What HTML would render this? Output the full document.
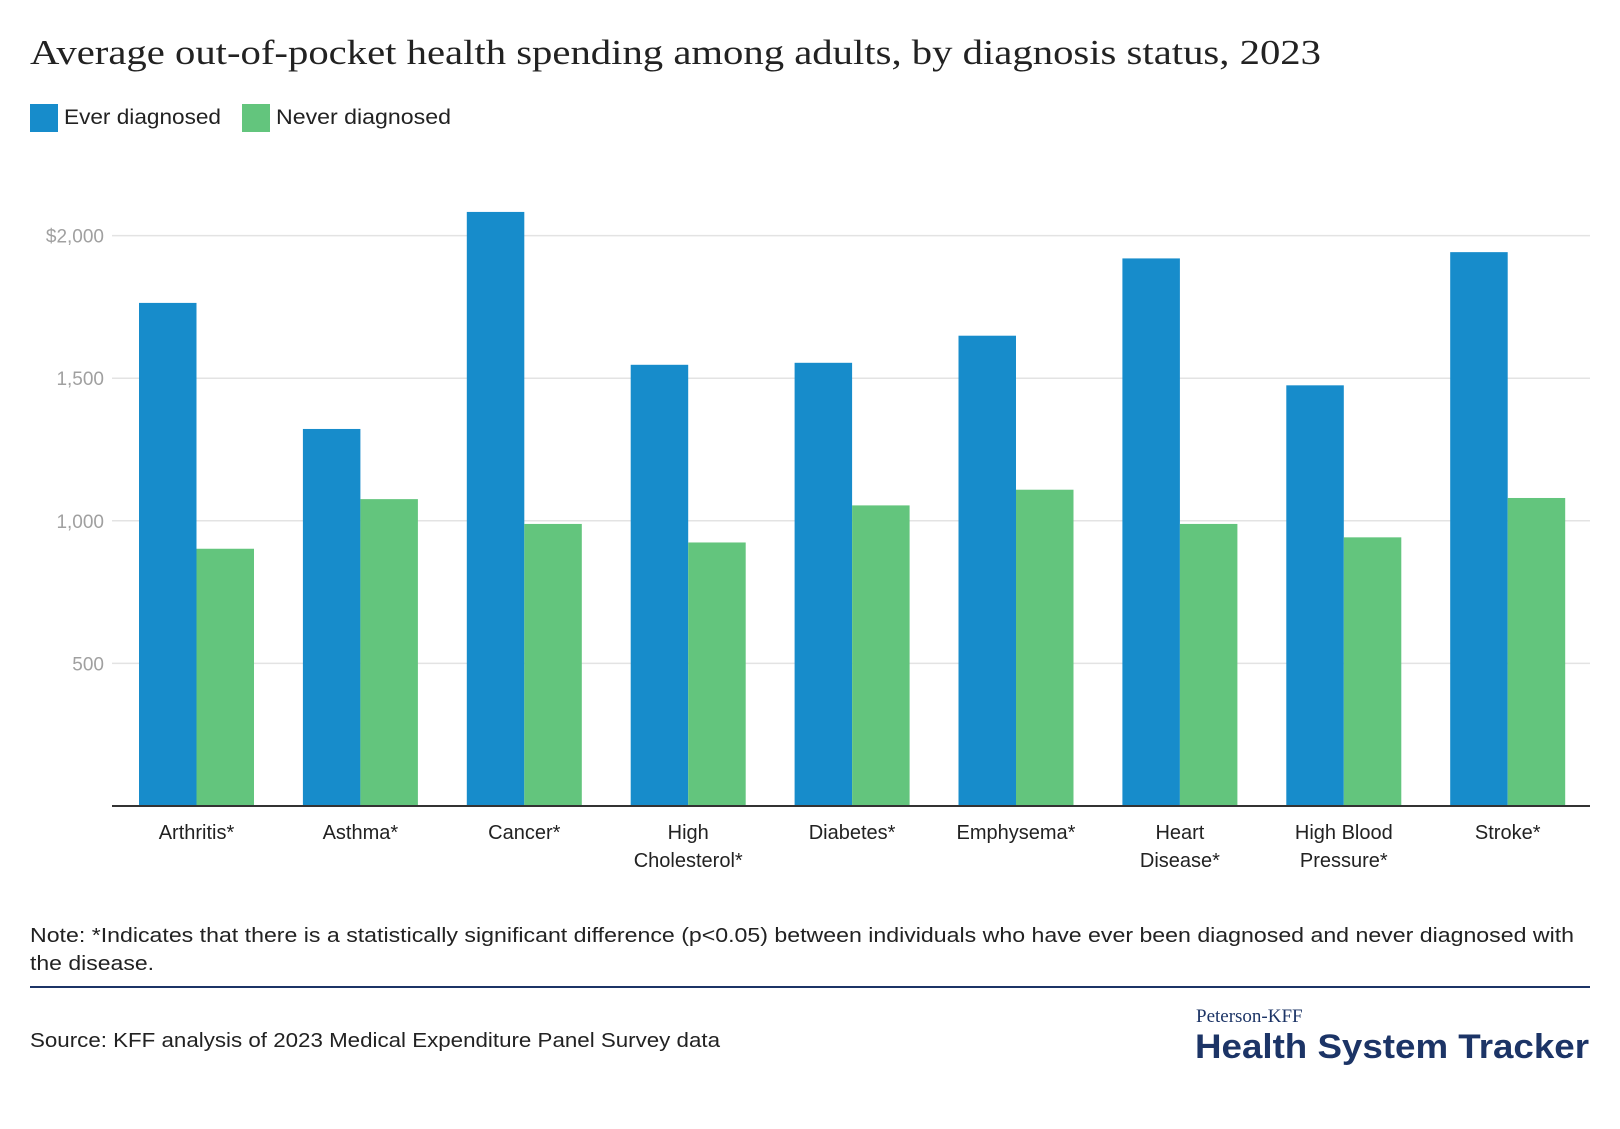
<!DOCTYPE html>
<html><head><meta charset="utf-8"><style>
body{margin:0;background:#fff;width:1620px;height:1124px;overflow:hidden;font-family:"Liberation Sans",sans-serif;}
</style></head><body>
<svg width="1620" height="1124" xmlns="http://www.w3.org/2000/svg">
<text x="30" y="64" font-family="Liberation Serif, serif" font-size="35" fill="#222" textLength="1291" lengthAdjust="spacingAndGlyphs">Average out-of-pocket health spending among adults, by diagnosis status, 2023</text>
<g>
<rect x="30" y="104" width="28" height="28" fill="#178ccb"/>
<text x="64" y="124" font-size="21" fill="#222" textLength="157" lengthAdjust="spacingAndGlyphs">Ever diagnosed</text>
<rect x="242" y="104" width="28" height="28" fill="#63c57d"/>
<text x="276" y="124" font-size="21" fill="#222" textLength="175" lengthAdjust="spacingAndGlyphs">Never diagnosed</text>
</g>
<g id="plot"></g>
<text x="30" y="942" font-size="20" fill="#222" textLength="1544" lengthAdjust="spacingAndGlyphs">Note: *Indicates that there is a statistically significant difference (p&lt;0.05) between individuals who have ever been diagnosed and never diagnosed with</text>
<text x="30" y="970" font-size="20" fill="#222" textLength="124" lengthAdjust="spacingAndGlyphs">the disease.</text>
<line x1="30" x2="1590" y1="987" y2="987" stroke="#1c3466" stroke-width="2"/>
<text x="30" y="1047" font-size="20" fill="#222" textLength="690" lengthAdjust="spacingAndGlyphs">Source: KFF analysis of 2023 Medical Expenditure Panel Survey data</text>
<text x="1196" y="1022" font-family="Liberation Serif, serif" font-size="19" fill="#1c3466">Peterson-KFF</text>
<text x="1195" y="1058" font-size="34" font-weight="bold" fill="#1c3466" textLength="394" lengthAdjust="spacingAndGlyphs">Health System Tracker</text>
</svg>
<script>
const categories=[["Arthritis*"],["Asthma*"],["Cancer*"],["High","Cholesterol*"],["Diabetes*"],["Emphysema*"],["Heart","Disease*"],["High Blood","Pressure*"],["Stroke*"]];
const everVals=[1764,1322,2083,1547,1554,1649,1920,1475,1942];
const neverVals=[902,1076,989,924,1054,1109,989,942,1080];
const ticks=[500,1000,1500,2000];
const tickLabels=["500","1,000","1,500","$2,000"];
const NS="http://www.w3.org/2000/svg";
const g=document.getElementById('plot');
const L=112,R=1590,B=806,T=235.6,maxV=2000;
const y=v=>B-(v/maxV)*(B-T);
const band=163.9;
const xc=i=>196.5+band*i;
const bw=57.5;
function mk(t,a){const e=document.createElementNS(NS,t);for(const k in a)e.setAttribute(k,a[k]);g.appendChild(e);return e;}
ticks.forEach((t,i)=>{
 const l=mk('line',{x1:L,x2:R,y1:y(t),y2:y(t),stroke:'#e3e3e3','stroke-width':1.5});
 
 
 const tx=mk('text',{x:L-8,y:y(t)+7,'text-anchor':'end','font-size':19,fill:'#a0a0a0'});
 tx.textContent=tickLabels[i];
 
 
});
categories.forEach((c,i)=>{
 const b1=mk('rect',{x:xc(i)-bw,y:y(everVals[i]),width:bw,height:B-y(everVals[i]),fill:'#178ccb'});
 
 
 const b2=mk('rect',{x:xc(i),y:y(neverVals[i]),width:bw,height:B-y(neverVals[i]),fill:'#63c57d'});
 
 
 c.forEach((line,j)=>{
  const t=mk('text',{x:xc(i),y:839+j*28,'text-anchor':'middle','font-size':20,fill:'#222'});
  t.textContent=line;
  
  
 });
});
const ax=mk('line',{x1:L,x2:R,y1:B,y2:B,stroke:'#333','stroke-width':2});


</script>
</body></html>
